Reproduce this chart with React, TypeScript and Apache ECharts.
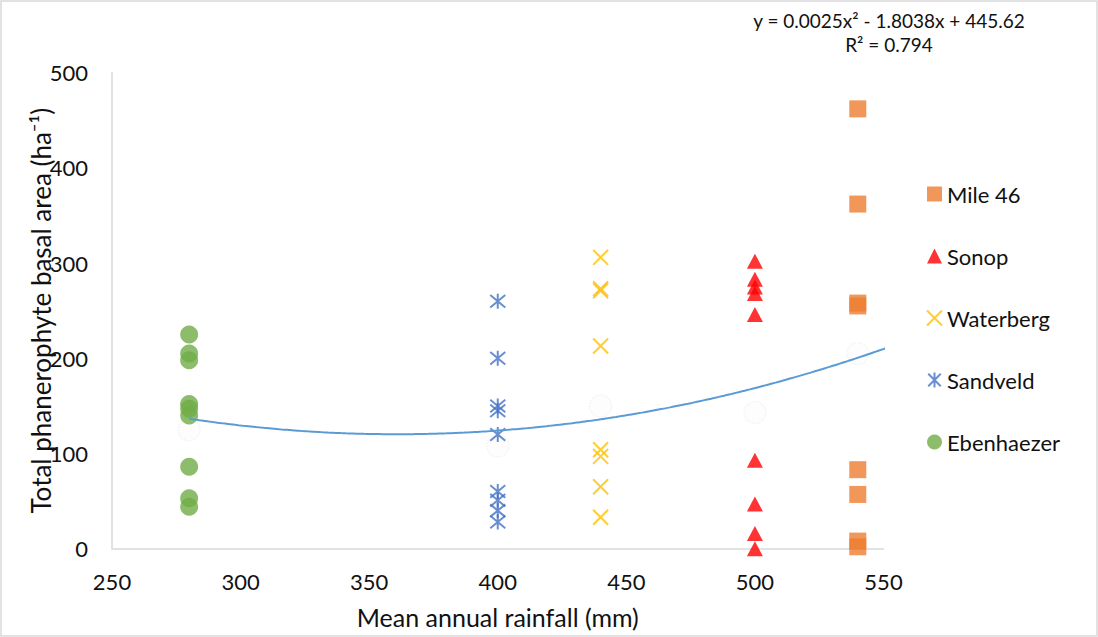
import React, { useEffect, useRef } from "react";
import * as echarts from "echarts";

// Axis ticks
const rainfallTicks = [250, 300, 350, 400, 450, 500, 550];
const basalTicks = [0, 100, 200, 300, 400, 500];

// Site mean annual rainfall (mm) and per-plot total phanerophyte basal area (ha-1)
const mile46Rainfall = 540;
const mile46Basal = [462, 362, 258, 255, 83, 57, 8, 2];
const sonopRainfall = 500;
const sonopBasal = [302, 283, 275, 268, 246, 93, 47, 16, 0];
const waterbergRainfall = 440;
const waterbergBasal = [306, 273, 271, 213, 104, 97, 65, 33];
const sandveldRainfall = 400;
const sandveldBasal = [260, 200, 150, 145, 120, 60, 51, 40, 28];
const ebenhaezerRainfall = 280;
const ebenhaezerBasal = [225, 205, 198, 152, 147, 140, 86, 53, 44];

// Faint site-mean markers
const siteMeanRainfall = [280, 400, 440, 500, 540];
const siteMeanBasal = [125, 108, 150, 143, 205];

// Polynomial trendline (order 2)
const trendA = 0.0025;
const trendB = -1.8038;
const trendC = 445.62;
const trendFrom = 280;
const trendTo = 551;
const equationLabel = "y = 0.0025x² - 1.8038x + 445.62";
const rSquaredLabel = "R² = 0.794";

const siteNames = ["Mile 46", "Sonop", "Waterberg", "Sandveld", "Ebenhaezer"];

const FONT = "Lato, 'Noto Sans', sans-serif";
const TEXT = "#111111";
const AXIS = "#d9d9d9";

const pairs = (x: number, ys: number[]) => ys.map((y) => [x, y]);

const trendPoints = () => {
  const pts: number[][] = [];
  for (let x = trendFrom; x <= trendTo; x += 1) {
    pts.push([x, trendA * x * x + trendB * x + trendC]);
  }
  return pts;
};

const CROSS = "path://M0,0L10,10M10,0L0,10";
const STAR = "path://M0,0L10,10M10,0L0,10M5,-1L5,11";

export default function App() {
  const ref = useRef<HTMLDivElement>(null);

  useEffect(() => {
    document.body.style.margin = "0";
    if (!ref.current) return;
    const chart = echarts.init(ref.current, undefined, { renderer: "svg" });

    chart.setOption({
      animation: false,
      backgroundColor: "#ffffff",
      textStyle: { fontFamily: FONT },
      grid: { left: 112, top: 72.7, width: 771.5, height: 476, containLabel: false },
      xAxis: {
        type: "value",
        min: rainfallTicks[0],
        max: rainfallTicks[rainfallTicks.length - 1],
        interval: rainfallTicks[1] - rainfallTicks[0],
        name: "Mean annual rainfall (mm)",
        nameLocation: "middle",
        nameGap: 56,
        nameMoveOverlap: false,
        nameTextStyle: { fontFamily: FONT, fontSize: 25, color: TEXT },
        axisLine: { show: true, lineStyle: { color: AXIS, width: 1.5 } },
        axisTick: { show: false },
        splitLine: { show: false },
        axisLabel: { fontFamily: FONT, fontSize: 22, color: TEXT, margin: 22 },
      },
      yAxis: {
        type: "value",
        min: basalTicks[0],
        max: basalTicks[basalTicks.length - 1],
        interval: basalTicks[1] - basalTicks[0],
        name: "Total phanerophyte basal area (ha⁻¹)",
        nameLocation: "middle",
        nameGap: 58,
        nameMoveOverlap: false,
        nameTextStyle: { fontFamily: FONT, fontSize: 26, color: TEXT },
        axisLine: { show: true, lineStyle: { color: AXIS, width: 1.5 } },
        axisTick: { show: false },
        splitLine: { show: false },
        axisLabel: { fontFamily: FONT, fontSize: 22, color: TEXT, margin: 24 },
      },
      legend: {
        data: siteNames,
        orient: "vertical",
        left: 921,
        top: 178,
        itemWidth: 15,
        itemHeight: 15,
        itemGap: 40,
        textStyle: { fontFamily: FONT, fontSize: 22, color: TEXT },
      },
      graphic: [
        {
          type: "rect",
          silent: true,
          shape: { x: 1, y: 1, width: 1096, height: 635 },
          style: { fill: "none", stroke: AXIS, lineWidth: 1.5 },
        },
        {
          type: "text",
          x: 889,
          y: 20,
          style: {
            text: equationLabel,
            fontFamily: FONT,
            fontSize: 19,
            fill: TEXT,
            align: "center",
            verticalAlign: "middle",
          },
        },
        {
          type: "text",
          x: 889,
          y: 44,
          style: {
            text: rSquaredLabel,
            fontFamily: FONT,
            fontSize: 19,
            fill: TEXT,
            align: "center",
            verticalAlign: "middle",
          },
        },
      ],
      series: [
        {
          name: "site means",
          type: "scatter",
          data: siteMeanRainfall.map((x, i) => [x, siteMeanBasal[i]]),
          symbol: "circle",
          symbolSize: 22,
          itemStyle: { color: "#fcfcfc", borderColor: "#efefef", borderWidth: 1.5, borderType: "dotted" },
          z: 1,
        },
        {
          name: "Mile 46",
          type: "scatter",
          data: pairs(mile46Rainfall, mile46Basal),
          symbol: "rect",
          symbolSize: 17,
          itemStyle: { color: "#ED7D31" },
          z: 2,
        },
        {
          name: "Sonop",
          type: "scatter",
          data: pairs(sonopRainfall, sonopBasal),
          symbol: "triangle",
          symbolSize: [16, 15],
          itemStyle: { color: "#FF0000" },
          z: 2,
        },
        {
          name: "Waterberg",
          type: "scatter",
          data: pairs(waterbergRainfall, waterbergBasal),
          symbol: CROSS,
          symbolSize: 15,
          itemStyle: { color: "#FFC000", borderColor: "#FFC000", borderWidth: 2 },
          z: 2,
        },
        {
          name: "Sandveld",
          type: "scatter",
          data: pairs(sandveldRainfall, sandveldBasal),
          symbol: STAR,
          symbolSize: 15,
          itemStyle: { color: "#4472C4", borderColor: "#4472C4", borderWidth: 2 },
          z: 2,
        },
        {
          name: "Ebenhaezer",
          type: "scatter",
          data: pairs(ebenhaezerRainfall, ebenhaezerBasal),
          symbol: "circle",
          symbolSize: 18,
          itemStyle: { color: "#70AD47" },
          z: 2,
        },
        {
          name: "trend",
          type: "line",
          data: trendPoints(),
          showSymbol: false,
          smooth: false,
          lineStyle: { color: "#5B9BD5", width: 2 },
          z: 3,
        },
      ],
    });

    return () => chart.dispose();
  }, []);

  return <div ref={ref} style={{ width: 1098, height: 637 }} />;
}
